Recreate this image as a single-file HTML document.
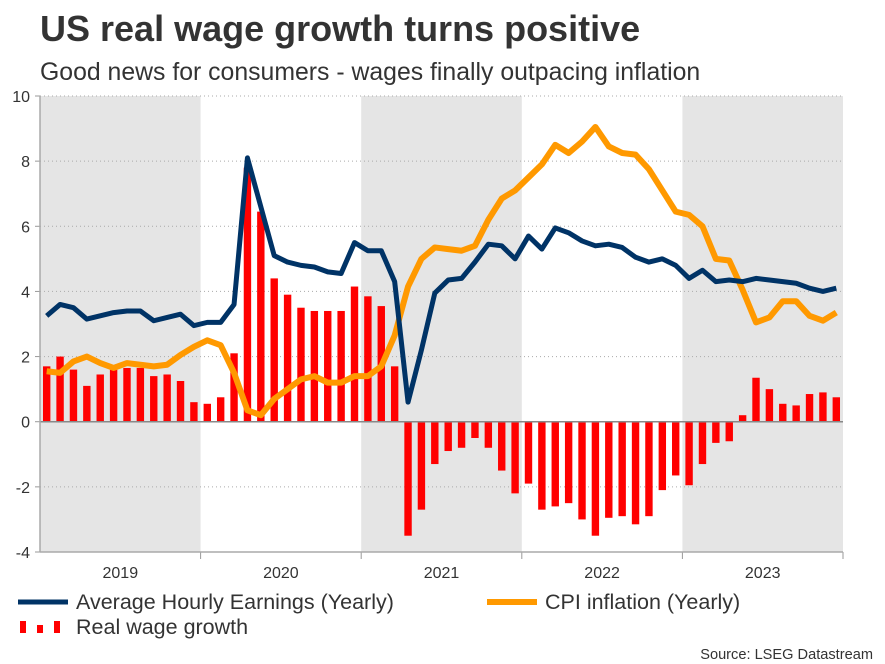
<!DOCTYPE html>
<html><head><meta charset="utf-8"><style>
body{margin:0;background:#fff;font-family:"Liberation Sans",Arial,sans-serif;}
#wrap{position:relative;width:885px;height:664px;overflow:hidden;}
</style></head><body>
<div id="wrap">
<svg id="chart" width="885" height="664" xmlns="http://www.w3.org/2000/svg">
<text x="40" y="41" font-size="36" font-weight="bold" fill="#333" font-family="Liberation Sans, sans-serif">US real wage growth turns positive</text>
<text x="40" y="80" font-size="24.8" fill="#333" font-family="Liberation Sans, sans-serif">Good news for consumers - wages finally outpacing inflation</text>
<g id="bands"></g><g id="grid"></g><g id="bars"></g><g id="lines"></g><g id="axes"></g>
<g>
<line x1="18" y1="602" x2="68" y2="602" stroke="#003366" stroke-width="5"/>
<text x="76" y="609" font-size="21.5" fill="#333">Average Hourly Earnings (Yearly)</text>
<line x1="487" y1="602" x2="537" y2="602" stroke="#ff9900" stroke-width="6"/>
<text x="545" y="609" font-size="21.5" fill="#333">CPI inflation (Yearly)</text>
<g>
<rect x="20" y="621" width="6" height="12" fill="#ff0000"/><rect x="37" y="625" width="6" height="8" fill="#ff0000"/><rect x="54" y="621" width="6" height="12" fill="#ff0000"/></g>
<text x="76" y="634" font-size="21.5" fill="#333">Real wage growth</text>
</g>
<text x="873" y="659" font-size="14.6" fill="#333" text-anchor="end">Source: LSEG Datastream</text>
</svg></div>
<script>
const years = ["2019","2020","2021","2022","2023"];
const yTicks = [10,8,6,4,2,0,-2,-4];
const realWage = [1.7,2.0,1.6,1.1,1.45,1.6,1.65,1.65,1.4,1.45,1.25,0.6,
0.55,0.75,2.1,7.8,6.45,4.4,3.9,3.5,3.4,3.4,3.4,4.15,
3.85,3.55,1.7,-3.5,-2.7,-1.3,-0.9,-0.8,-0.5,-0.8,-1.5,-2.2,
-1.9,-2.7,-2.6,-2.5,-3.0,-3.5,-2.95,-2.9,-3.15,-2.9,-2.1,-1.65,
-1.95,-1.3,-0.65,-0.6,0.2,1.35,1.0,0.55,0.5,0.85,0.9,0.75];
const ahe = [3.25,3.6,3.5,3.15,3.25,3.35,3.4,3.4,3.1,3.2,3.3,2.95,
3.05,3.05,3.6,8.1,6.6,5.1,4.9,4.8,4.75,4.6,4.55,5.5,
5.25,5.25,4.3,0.6,2.2,3.95,4.35,4.4,4.9,5.45,5.4,5.0,
5.7,5.3,5.95,5.8,5.55,5.4,5.45,5.35,5.05,4.9,5.0,4.8,
4.4,4.65,4.3,4.35,4.3,4.4,4.35,4.3,4.25,4.1,4.0,4.1];
const cpi = [1.55,1.5,1.85,2.0,1.8,1.65,1.8,1.75,1.7,1.75,2.05,2.3,
2.5,2.35,1.5,0.35,0.2,0.7,1.0,1.3,1.4,1.2,1.2,1.4,
1.4,1.7,2.65,4.15,5.0,5.35,5.3,5.25,5.4,6.2,6.85,7.1,
7.5,7.9,8.5,8.25,8.6,9.05,8.45,8.25,8.2,7.75,7.1,6.45,
6.35,6.0,5.0,4.95,4.05,3.05,3.2,3.7,3.7,3.25,3.1,3.35];

const NS="http://www.w3.org/2000/svg";
const X0=40,X1=843,Y0=96,Y1=552,VMAX=10,VMIN=-4;
const mw=(X1-X0)/60;
function xM(i){return X0+(i+0.5)*mw;}
function yV(v){return Y0+(VMAX-v)/(VMAX-VMIN)*(Y1-Y0);}
function mk(tag,attrs,parent){const e=document.createElementNS(NS,tag);for(const k in attrs)e.setAttribute(k,attrs[k]);parent.appendChild(e);return e;}
const bands=document.getElementById('bands'),grid=document.getElementById('grid'),bars=document.getElementById('bars'),lines=document.getElementById('lines'),axes=document.getElementById('axes');
years.forEach((y,i)=>{
  const xa=X0+i*12*mw;
  if(i%2===0){const r=mk('rect',{x:xa,y:Y0,width:12*mw,height:Y1-Y0,fill:'#e5e5e5'},bands);
    
    }
  const t=mk('text',{x:xa+6*mw,y:578,'font-size':16,fill:'#333','text-anchor':'middle'},axes);t.textContent=y;
  
  
  const tk=mk('line',{x1:xa+12*mw,y1:Y1,x2:xa+12*mw,y2:Y1+7,stroke:'#999','stroke-width':1},axes);
  
  
});
yTicks.forEach(v=>{
  const y=yV(v);
  if(v!==0&&v!==VMIN){const g=mk('line',{x1:X0,y1:y,x2:X1,y2:y,stroke:'#aaa','stroke-width':1,'stroke-dasharray':'1,3'},grid);
    
    }
  const tk=mk('line',{x1:X0-5,y1:y,x2:X0,y2:y,stroke:'#999'},axes);
  
  
  const t=mk('text',{x:X0-10,y:y+6,'font-size':16,fill:'#333','text-anchor':'end'},axes);t.textContent=v;
  
  
});
realWage.forEach((v,i)=>{
  const y0=yV(0),y=yV(v);
  const b=mk('rect',{x:xM(i)-3.7,y:Math.min(y,y0),width:7.4,height:Math.abs(y-y0),fill:'#ff0000'},bars);
  
  
});
function line(arr,color,w,name){
  const p=mk('polyline',{points:arr.map((v,i)=>xM(i)+','+yV(v)).join(' '),fill:'none',stroke:color,'stroke-width':w,'stroke-linejoin':'round'},lines);
  
  
}
line(cpi,'#ff9900',6,'cpi-line');
line(ahe,'#003366',5,'ahe-line');
const z=mk('line',{x1:X0,y1:yV(0),x2:X1,y2:yV(0),stroke:'#888','stroke-width':1.5},axes);


const ya=mk('line',{x1:X0,y1:Y0,x2:X0,y2:Y1,stroke:'#aaa','stroke-width':1.5},axes);


const xa=mk('line',{x1:X0,y1:Y1,x2:X1,y2:Y1,stroke:'#aaa','stroke-width':1.5},axes);


</script>
</body></html>
